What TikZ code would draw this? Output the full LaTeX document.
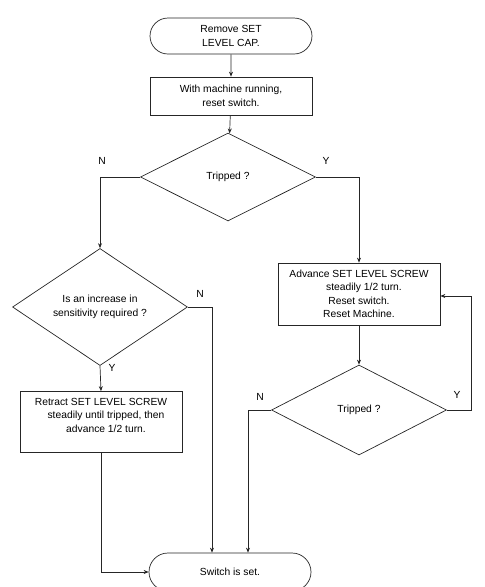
\documentclass[tikz,border=0pt]{standalone}
\usepackage{fontspec}
\setmainfont{Liberation Sans}
\usetikzlibrary{shapes.misc,shapes.geometric,arrows.meta}

\tikzset{every picture/.style={line width=0.7pt}}
\tikzset{
  flowline/.style={draw=black!85},
  flowarrow/.style={draw=black!85,-{Stealth[length=5pt,width=4pt]}},
  termbox/.style={rounded rectangle,draw=black!85,minimum width=162pt,minimum height=36pt,inner sep=0pt,align=center},
  stepbox/.style={rectangle,draw=black!85,minimum width=162pt,inner sep=0pt,align=center},
  testbox/.style={diamond,draw=black!85,minimum width=175pt,minimum height=88pt,inner sep=0pt,align=center},
  answer/.style={inner sep=0.75pt}
}

\begin{document}
\begin{tikzpicture}[x=1pt,y=1pt,yscale=-1,xscale=1,font=\fontsize{10.3}{13.5}\selectfont]
\useasboundingbox (0,0) rectangle (485,587);

%Shape: Terminal [start]
\node (start) at (231,36) [termbox] {Remove SET\\LEVEL CAP.};
%Shape: Rectangle [reset]
\node (reset) at (231,96) [stepbox,minimum height=38pt] {With machine running,\\reset switch.};
%Shape: Diamond [tripA]
\node (tripA) at (228,177) [testbox] {Tripped ?};
%Shape: Diamond [incr]
\node (incr) at (100,307) [testbox,minimum height=87pt] {Is an increase in\\sensitivity required ?};
%Shape: Rectangle [advance]
\node (advance) at (359,294) [stepbox,minimum height=62pt] {Advance SET LEVEL SCREW\\\hspace*{10pt}steadily 1/2 turn.\\Reset switch.\\Reset Machine.};
%Shape: Diamond [tripB]
\node (tripB) at (359,410) [testbox,minimum height=90pt] {Tripped ?};
%Shape: Rectangle [retract]
\node (retract) at (101,422) [stepbox,minimum height=61pt] {Retract SET LEVEL SCREW\\\hspace*{10pt}steadily until tripped, then\\\hspace*{10pt}advance 1/2 turn.\\\mbox{}};
%Shape: Terminal [done]
\node (done) at (230,572) [termbox,minimum height=38pt] {Switch is set.};

%Straight Lines [start to reset]
\draw [flowarrow] (start) -- (reset);
%Straight Lines [reset to tripA]
\draw [flowarrow] (reset) -- (tripA);
%Straight Lines [tripA no]
\draw [flowarrow] (tripA.west) -| (incr.north);
%Straight Lines [tripA yes]
\draw [flowarrow] (tripA.east) -| (advance.north);
%Straight Lines [incr no]
\draw [flowarrow] (incr.east) -| ([xshift=-18pt]done.north);
%Straight Lines [incr yes]
\draw [flowarrow] (incr.south) -- (retract.north);
%Straight Lines [retract to done]
\draw [flowarrow] (retract.south) |- (done.west);
%Straight Lines [advance to tripB]
\draw [flowarrow] (advance.south) -- (tripB.north);
%Straight Lines [tripB yes]
\draw [flowarrow] (tripB.east) -- ++(24,0) |- ([yshift=2pt]advance.east);
%Straight Lines [tripB no]
\draw [flowarrow] (tripB.west) -| ([xshift=18pt]done.north);

% Text Node
\node (nA) at (102,161) [answer] {N};
% Text Node
\node (yA) at (326,161) [answer] {Y};
% Text Node
\node (nB) at (200,294) [answer] {N};
% Text Node
\node (yB) at (112,368) [answer] {Y};
% Text Node
\node (nC) at (260,397) [answer] {N};
% Text Node
\node (yC) at (457,395) [answer] {Y};

\end{tikzpicture}
\end{document}
